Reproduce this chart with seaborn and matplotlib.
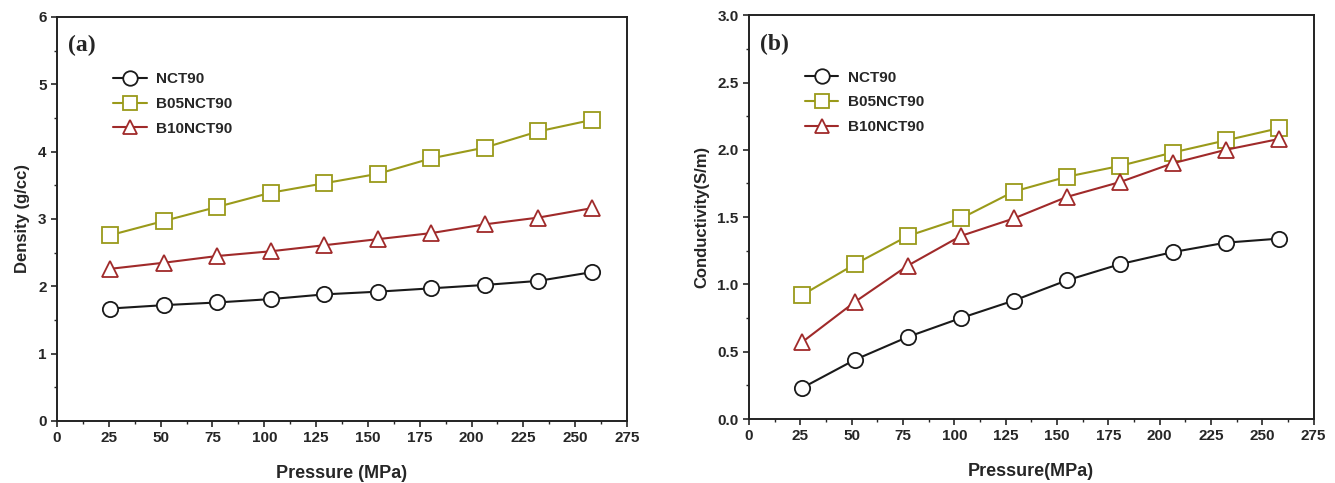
import numpy as np
import pandas as pd
import matplotlib
matplotlib.use("Agg")
import matplotlib.pyplot as plt
from matplotlib.ticker import MultipleLocator
import seaborn as sns

pressure = [25.8, 51.6, 77.4, 103.2, 129.0, 154.8, 180.6, 206.4, 232.2, 258.0]
series_names = ["NCT90", "B05NCT90", "B10NCT90"]

density_nct90 = [1.67, 1.72, 1.76, 1.81, 1.88, 1.92, 1.97, 2.02, 2.08, 2.21]
density_b05 = [2.76, 2.97, 3.18, 3.39, 3.53, 3.67, 3.90, 4.06, 4.30, 4.47]
density_b10 = [2.26, 2.35, 2.45, 2.52, 2.61, 2.70, 2.79, 2.92, 3.02, 3.16]

cond_nct90 = [0.23, 0.44, 0.61, 0.75, 0.88, 1.03, 1.15, 1.24, 1.31, 1.34]
cond_b05 = [0.92, 1.15, 1.36, 1.49, 1.69, 1.80, 1.88, 1.98, 2.07, 2.16]
cond_b10 = [0.57, 0.87, 1.14, 1.36, 1.49, 1.65, 1.76, 1.90, 2.00, 2.08]

x_ticks = [0, 25, 50, 75, 100, 125, 150, 175, 200, 225, 250, 275]

sns.set_theme(style="ticks")
plt.rcParams['font.family'] = ['Liberation Sans', 'DejaVu Sans']
plt.rcParams['font.weight'] = 'bold'

palette = {"NCT90": "#1a1a1a", "B05NCT90": "#9a9a1a", "B10NCT90": "#a02a2a"}
markers = {"NCT90": "o", "B05NCT90": "s", "B10NCT90": "^"}


def make_df(vals):
    rows = []
    for name, v in zip(series_names, vals):
        for p, y in zip(pressure, v):
            rows.append({"Pressure": p, "value": y, "Sample": name})
    return pd.DataFrame(rows)


fig = plt.figure(figsize=(13.35, 4.83), dpi=100)
ax1 = fig.add_axes([0.0427, 0.1284, 0.427, 0.8366])
ax2 = fig.add_axes([0.561, 0.1325, 0.423, 0.836])

configs = [
    (ax1, make_df([density_nct90, density_b05, density_b10]), (0, 6), 1, 0.5,
     "Density (g/cc)", "Pressure (MPa)", "(a)", "{:.0f}", (0.088, 0.878)),
    (ax2, make_df([cond_nct90, cond_b05, cond_b10]), (0, 3.0), 0.5, 0.25,
     "Conductivity(S/m)", "Pressure(MPa)", "(b)", "{:.1f}", (0.088, 0.878)),
]

for ax, df, ylim, major, minor, ylab, xlab, tag, fmt, legpos in configs:
    sns.lineplot(data=df, x="Pressure", y="value", hue="Sample", style="Sample",
                 hue_order=series_names, style_order=series_names,
                 palette=palette, markers=markers, dashes=False,
                 markersize=11, markerfacecolor="white", markeredgewidth=1.3,
                 linewidth=1.5, ax=ax)
    for line in ax.lines:
        line.set_markerfacecolor("white")
        line.set_markeredgecolor(line.get_color())
    ax.set_xlim(0, 275)
    ax.set_ylim(*ylim)
    ax.set_xticks(x_ticks)
    ax.xaxis.set_minor_locator(MultipleLocator(12.5))
    ax.yaxis.set_major_locator(MultipleLocator(major))
    ax.yaxis.set_minor_locator(MultipleLocator(minor))
    ax.set_yticklabels([fmt.format(t) for t in ax.get_yticks()])
    ax.tick_params(which="major", length=4, width=1.2, labelsize=11, direction="out")
    ax.tick_params(which="minor", length=2.5, width=1.0, direction="out")
    for lbl in ax.get_xticklabels() + ax.get_yticklabels():
        lbl.set_fontweight("bold")
    for sp in ax.spines.values():
        sp.set_linewidth(1.4)
        sp.set_color("#222222")
    ax.set_xlabel(xlab, fontsize=13, fontweight="bold", labelpad=14)
    ax.set_ylabel(ylab, fontsize=12, fontweight="bold", labelpad=6)
    ax.text(0.02, 0.955, tag, transform=ax.transAxes, fontsize=17,
            fontweight="bold", family=["Liberation Serif", "DejaVu Serif"],
            va="top", ha="left")
    leg = ax.legend(loc="upper left", bbox_to_anchor=legpos, frameon=False,
                    fontsize=11, handlelength=2.2, handletextpad=0.6,
                    labelspacing=0.7, borderaxespad=0, markerscale=0.95)
    for t in leg.get_texts():
        t.set_fontweight("bold")

fig.savefig("out.png", dpi=100)
